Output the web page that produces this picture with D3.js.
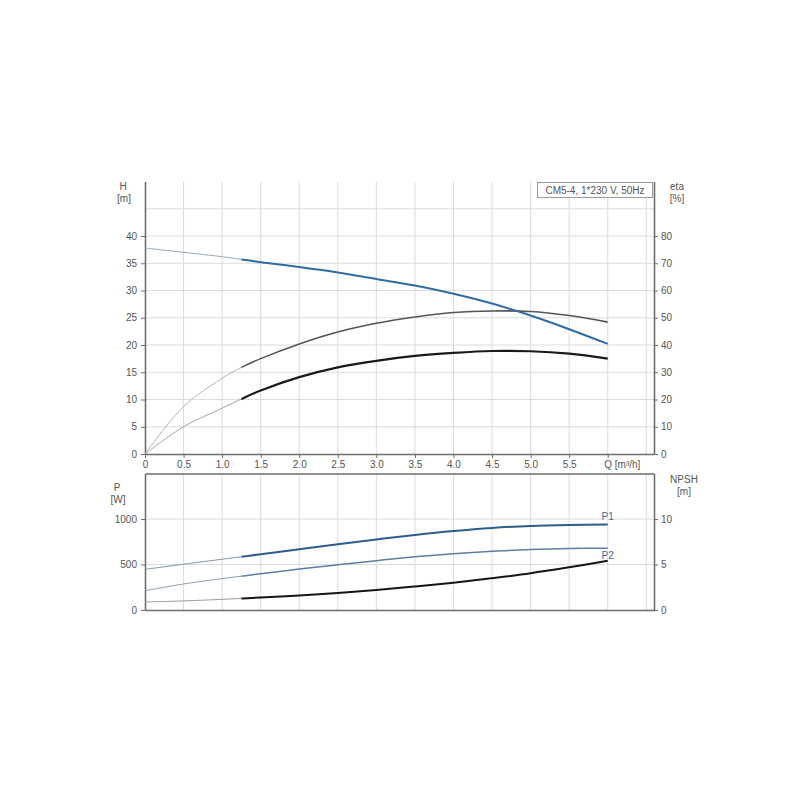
<!DOCTYPE html>
<html><head><meta charset="utf-8">
<script src="https://cdn.jsdelivr.net/npm/d3@7"></script>
<style>
body{margin:0;background:#fff;}
svg{display:block;font-family:"Liberation Sans",Arial,sans-serif;}
.tick text{fill:#555;font-size:10px;}
</style></head><body>
<svg id="c" width="800" height="800"></svg>
<script>
// ---- data ----
const qPts      = [0, 0.5, 1.0, 1.25, 1.5, 2.0, 2.5, 3.0, 3.5, 4.0, 4.5, 5.0, 5.5, 6.0];
const headH     = [37.8, 37.0, 36.2, 35.7, 35.2, 34.3, 33.3, 32.1, 30.9, 29.4, 27.6, 25.4, 22.9, 20.2];
const etaPump   = [0, 17.4, 27.8, 31.8, 35.0, 40.4, 44.8, 48.0, 50.3, 51.9, 52.5, 52.3, 50.8, 48.4];
const etaTotal  = [0, 10.0, 16.8, 20.2, 23.3, 28.2, 31.8, 34.2, 36.0, 37.1, 37.8, 37.7, 36.8, 35.0];
const powerP1   = [447, 503, 558, 586, 612, 667, 722, 775, 825, 868, 902, 924, 935, 940];
const powerP2   = [212, 286, 345, 372, 398, 450, 497, 542, 584, 619, 646, 665, 676, 679];
const npsh      = [0.88, 1.0, 1.17, 1.27, 1.37, 1.6, 1.88, 2.2, 2.58, 3.0, 3.5, 4.05, 4.7, 5.4];
const qTicks    = [0, 0.5, 1.0, 1.5, 2.0, 2.5, 3.0, 3.5, 4.0, 4.5, 5.0, 5.5, 6.0];
const qGrid     = [0.5, 1.0, 1.5, 2.0, 2.5, 3.0, 3.5, 4.0, 4.5, 5.0, 5.5, 6.0, 6.5];
const hTicks    = [0, 5, 10, 15, 20, 25, 30, 35, 40];
const hGrid     = [5, 10, 15, 20, 25, 30, 35, 40, 45];
const etaTicks  = [0, 10, 20, 30, 40, 50, 60, 70, 80];
const pTicks    = [0, 500, 1000];
const pGrid     = [500, 1000];
const npshTicks = [0, 5, 10];
const title     = "CM5-4, 1*230 V, 50Hz";
const splitQ    = 1.25;

// ---- layout ----
const svg = d3.select("#c");
const L = 145, R = 654;
const T1 = 181.5, B1 = 454, T2 = 473.5, B2 = 610;
const x = d3.scaleLinear().domain([0, 6.6]).range([L, R]);
const yH = d3.scaleLinear().domain([0, 50]).range([B1, T1]);
const yEta = d3.scaleLinear().domain([0, 100]).range([B1, T1]);
const yP = d3.scaleLinear().domain([0, 1500]).range([B2, T2]);
const yN = d3.scaleLinear().domain([0, 15]).range([B2, T2]);

const gridC = "#dcdcdc", axisC = "#6e6e6e";

// clip regions for thin (before split) and thick (after split) parts
const defs = svg.append("defs");
defs.append("clipPath").attr("id", "clipA").append("rect")
  .attr("x", 0).attr("y", 0).attr("width", x(splitQ)).attr("height", 800);
defs.append("clipPath").attr("id", "clipB").append("rect")
  .attr("x", x(splitQ)).attr("y", 0).attr("width", 800).attr("height", 800);

// grids
const g = svg.append("g");
g.selectAll(".vg1").data(qGrid).join("line")
  .attr("x1", d => x(d)).attr("x2", d => x(d)).attr("y1", T1).attr("y2", B1)
  .attr("stroke", gridC).attr("stroke-width", 1);
g.selectAll(".hg1").data(hGrid).join("line")
  .attr("x1", L).attr("x2", R).attr("y1", d => yH(d)).attr("y2", d => yH(d))
  .attr("stroke", gridC).attr("stroke-width", 1);
g.selectAll(".vg2").data(qGrid).join("line")
  .attr("x1", d => x(d)).attr("x2", d => x(d)).attr("y1", T2).attr("y2", B2)
  .attr("stroke", gridC).attr("stroke-width", 1);
g.selectAll(".hg2").data(pGrid).join("line")
  .attr("x1", L).attr("x2", R).attr("y1", d => yP(d)).attr("y2", d => yP(d))
  .attr("stroke", gridC).attr("stroke-width", 1);

function styleAxis(sel){
  sel.select(".domain").attr("stroke", axisC).attr("stroke-width", 1.6);
  sel.selectAll(".tick line").attr("stroke", axisC);
}

// top axes
svg.append("g").attr("transform", `translate(${L},0)`)
  .call(d3.axisLeft(yH).tickValues(hTicks).tickSize(4).tickSizeOuter(0).tickPadding(4))
  .call(styleAxis);
svg.append("g").attr("transform", `translate(${R},0)`)
  .call(d3.axisRight(yEta).tickValues(etaTicks).tickSize(4).tickSizeOuter(0).tickPadding(3))
  .call(styleAxis);
const xa = svg.append("g").attr("transform", `translate(0,${B1})`)
  .call(d3.axisBottom(x).tickValues(qTicks).tickSize(4).tickSizeOuter(0).tickPadding(3)
    .tickFormat(d => d === 0 ? "0" : d === 6 ? "Q [m³/h]" : d.toFixed(1)))
  .call(styleAxis);
xa.selectAll(".tick text").filter(d => d === 6).attr("text-anchor", "start").attr("dx", -4);

// bottom axes
svg.append("g").attr("transform", `translate(${L},0)`)
  .call(d3.axisLeft(yP).tickValues(pTicks).tickSize(4).tickSizeOuter(0).tickPadding(4)
    .tickFormat(d3.format("d")))
  .call(styleAxis);
svg.append("g").attr("transform", `translate(${R},0)`)
  .call(d3.axisRight(yN).tickValues(npshTicks).tickSize(4).tickSizeOuter(0).tickPadding(3))
  .call(styleAxis);
svg.append("g").attr("transform", `translate(0,${T2})`)
  .call(d3.axisTop(x).tickValues([]).tickSizeOuter(0)).call(styleAxis);
svg.append("g").attr("transform", `translate(0,${B2})`)
  .call(d3.axisBottom(x).tickValues([]).tickSizeOuter(0)).call(styleAxis);

// axis titles
const lab = (t, xx, yy, anchor) => svg.append("text").text(t).attr("x", xx).attr("y", yy)
  .attr("font-size", 10).attr("fill", "#555").attr("text-anchor", anchor || "middle");
lab("H", 123, 190); lab("[m]", 124, 202);
lab("eta", 677, 190); lab("[%]", 677, 202);
lab("P", 117, 491); lab("[W]", 118, 503);
lab("NPSH", 684, 483); lab("[m]", 684, 495);

// title box
svg.append("rect").attr("x", 537.5).attr("y", 182.5).attr("width", 115).attr("height", 15)
  .attr("fill", "#fff").attr("stroke", "#9a9a9a").attr("stroke-width", 1);
svg.append("text").text(title).attr("x", 595).attr("y", 193.5).attr("text-anchor", "middle")
  .attr("font-size", 10).attr("fill", "#555");

// curves
function drawSeries(vals, yScale, thinC, thickC, thinW, thickW){
  const pts = qPts.map((q, i) => [q, vals[i]]);
  const line = d3.line().x(d => x(d[0])).y(d => yScale(d[1])).curve(d3.curveCatmullRom.alpha(0.5));
  const dStr = line(pts);
  svg.append("path").attr("d", dStr).attr("clip-path", "url(#clipA)")
    .attr("fill", "none").attr("stroke", thinC).attr("stroke-width", thinW);
  svg.append("path").attr("d", dStr).attr("clip-path", "url(#clipB)")
    .attr("fill", "none").attr("stroke", thickC).attr("stroke-width", thickW);
}
drawSeries(etaPump, yEta, "#b4b4b4", "#555555", 1, 1.6);
drawSeries(etaTotal, yEta, "#a4a4a4", "#1a1a1a", 1, 2.2);
drawSeries(headH, yH, "#97a8ba", "#2e6da4", 1, 2);
drawSeries(npsh, yN, "#9a9a9a", "#151515", 1, 2);
drawSeries(powerP2, yP, "#8b9db1", "#5a7ea4", 1, 1.5);
drawSeries(powerP1, yP, "#7f93a8", "#2c5d8c", 1, 2);

// series labels
svg.append("text").text("P1").attr("x", x(6.0)).attr("y", yP(940) - 4).attr("text-anchor", "middle")
  .attr("font-size", 10).attr("fill", "#3b6a98");
svg.append("text").text("P2").attr("x", x(6.0)).attr("y", yP(679) + 11).attr("text-anchor", "middle")
  .attr("font-size", 10).attr("fill", "#3b6a98");
</script></body></html>
